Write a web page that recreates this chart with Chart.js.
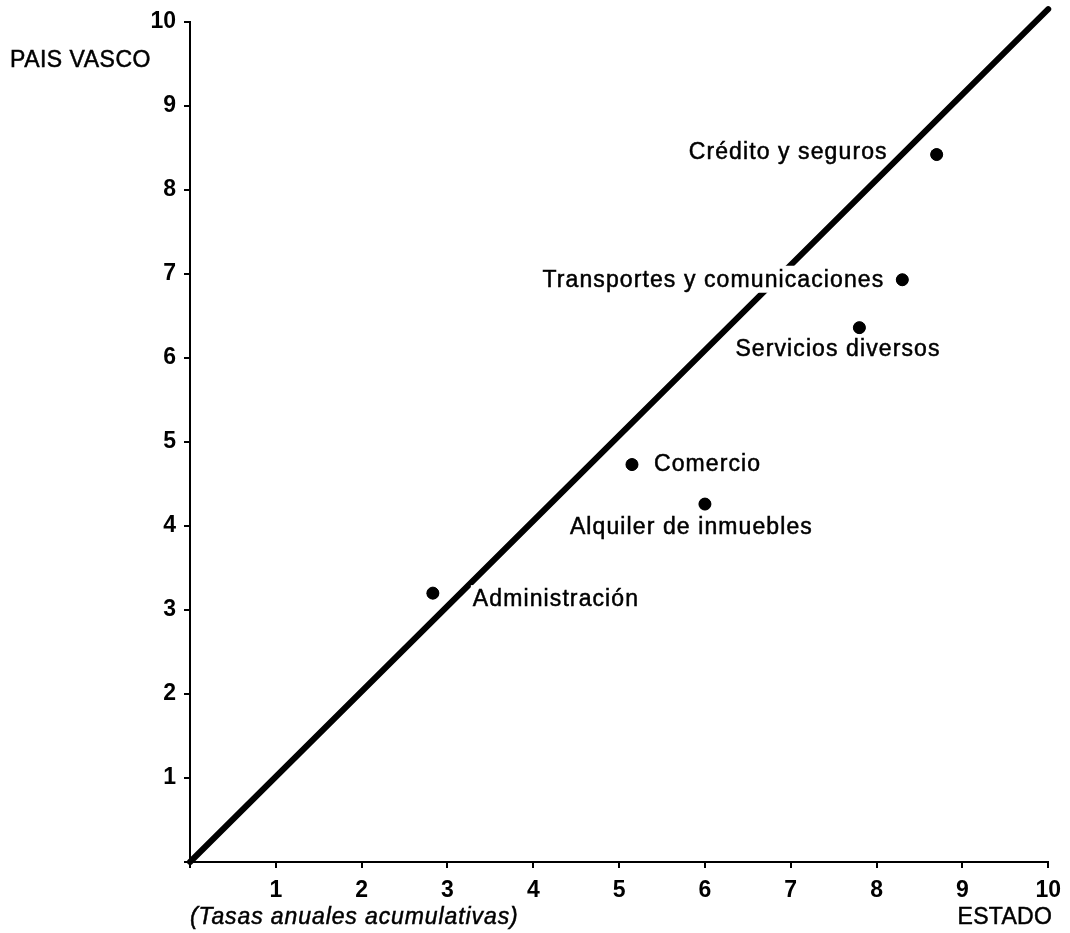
<!DOCTYPE html>
<html>
<head>
<meta charset="utf-8">
<script src="https://cdn.jsdelivr.net/npm/chart.js@4.4.1/dist/chart.umd.min.js"></script>
<style>
  body { margin: 0; background: #fff; }
  #wrap { width: 1070px; height: 933px; position: relative; }
</style>
</head>
<body>
<div id="wrap"><canvas id="myChart"></canvas></div>
<script>
// sectores: tasas anuales acumulativas (Estado vs Pais Vasco)
const sectores = ["Crédito y seguros", "Transportes y comunicaciones", "Servicios diversos", "Comercio", "Alquiler de inmuebles", "Administración"];
const estado = [8.7, 8.3, 7.8, 5.15, 6.0, 2.83];
const paisVasco = [8.42, 6.93, 6.36, 4.73, 4.26, 3.2];
// diagonal de referencia
const diagX = [0, 10];
const diagY = [0, 10.15];
const ticksEje = [0, 1, 2, 3, 4, 5, 6, 7, 8, 9, 10];

// where each label sits relative to its dot (pixels)
const labelPos = [
  { dx: -49, dy: -2, align: "right" },
  { dx: -18, dy: 1, align: "right" },
  { dx: -124, dy: 22, align: "left" },
  { dx: 22, dy: 0, align: "left" },
  { dx: -135, dy: 24, align: "left" },
  { dx: 40, dy: 7, align: "left" }
];

const fontFam = "'Liberation Sans', Arial, sans-serif";

function drawText(c, txt, x, y, spacing) {
  c.letterSpacing = spacing + "px";
  c.fillText(txt, x, y);
  c.lineWidth = 0.5;
  c.strokeStyle = "#000";
  c.strokeText(txt, x, y);
}

const labelsPlugin = {
  id: "labelsPlugin",
  afterDatasetsDraw(chart) {
    const c = chart.ctx;
    const meta = chart.getDatasetMeta(1);
    c.save();
    c.font = "23px " + fontFam;
    c.letterSpacing = "1.1px";
    c.textBaseline = "middle";
    meta.data.forEach((pt, i) => {
      const p = labelPos[i];
      const x = pt.x + p.dx;
      const y = pt.y + p.dy;
      const w = c.measureText(sectores[i]).width;
      const left = p.align === "right" ? x - w : x;
      c.fillStyle = "#fff";
      c.fillRect(left - 2, y - 15, w - 1, 27);
      c.fillStyle = "#000";
      c.textAlign = p.align;
      drawText(c, sectores[i], x, y, 1.1);
    });
    // redraw dots on top
    meta.data.forEach(pt => {
      c.beginPath();
      c.arc(pt.x, pt.y, 6, 0, Math.PI * 2);
      c.fillStyle = "#000";
      c.fill();
    });

    const a = chart.chartArea;
    c.textAlign = "left";
    drawText(c, "PAIS VASCO", 10, a.top + 39, 0.5);
    c.font = "italic 23px " + fontFam;
    drawText(c, "(Tasas anuales acumulativas)", a.left, a.bottom + 56, 0.9);
    c.font = "23px " + fontFam;
    c.textAlign = "right";
    drawText(c, "ESTADO", a.right + 4, a.bottom + 56, 0.3);
    c.restore();
  }
};

const ctx = document.getElementById("myChart");

const data = {
  datasets: [
    {
      type: "line",
      data: diagX.map((x, i) => ({ x: x, y: diagY[i] })),
      borderColor: "#000",
      borderWidth: 6,
      borderCapStyle: "round",
      pointRadius: 0,
      clip: false
    },
    {
      type: "scatter",
      data: estado.map((x, i) => ({ x: x, y: paisVasco[i] })),
      backgroundColor: "#000",
      borderColor: "#000",
      pointRadius: 6
    }
  ]
};

const axisCommon = {
  type: "linear",
  min: 0,
  max: 10,
  border: { display: true, color: "#000", width: 2 },
  grid: { drawOnChartArea: false, drawTicks: true, tickLength: 6, color: "#000", lineWidth: 2 },
  afterBuildTicks: scale => { scale.ticks = ticksEje.map(v => ({ value: v })); }
};

const config = {
  data: data,
  options: {
    responsive: true,
    maintainAspectRatio: false,
    animation: false,
    layout: { padding: { top: 19, right: 20, left: 0, bottom: 0 } },
    plugins: {
      legend: { display: false },
      tooltip: { enabled: false }
    },
    scales: {
      x: Object.assign({}, axisCommon, {
        ticks: {
          color: "#000",
          padding: 9,
          maxRotation: 0,
          font: { family: fontFam, size: 23, weight: "bold" },
          callback: v => (v === 0 ? "" : v)
        },
        afterFit: scale => { scale.height = 71; }
      }),
      y: Object.assign({}, axisCommon, {
        ticks: {
          color: "#000",
          padding: 8,
          font: { family: fontFam, size: 23, weight: "bold" },
          callback: v => (v === 0 ? "" : v)
        },
        afterFit: scale => { scale.width = 190; }
      })
    }
  },
  plugins: [labelsPlugin]
};

new Chart(ctx, config);
</script>
</body>
</html>
